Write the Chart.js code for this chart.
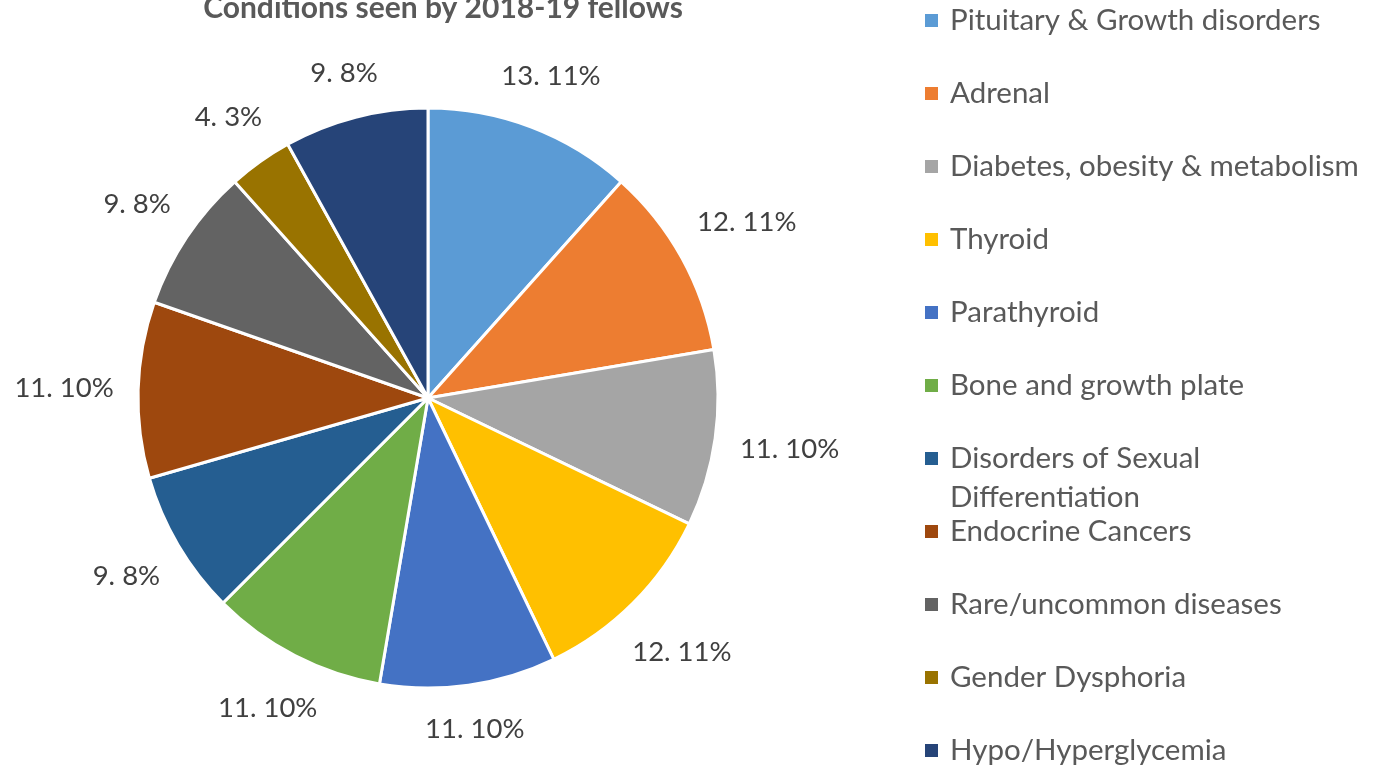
<!DOCTYPE html>
<html lang="en">
<head>
    <meta charset="UTF-8">
    <title>Conditions seen by 2018-19 fellows</title>
    <script src="https://cdn.jsdelivr.net/npm/chart.js@4.4.0/dist/chart.umd.min.js"></script>
    <style>
        html, body { margin: 0; padding: 0; background: #fff; }
        #wrap { width: 1381px; height: 765px; position: relative; overflow: hidden; }
    </style>
</head>
<body>
<div id="wrap">
    <canvas id="myChart" width="1381" height="765"></canvas>
</div>
<script>
    var chartTitle = 'Conditions seen by 2018-19 fellows';
    var categories = ['Pituitary & Growth disorders', 'Adrenal', 'Diabetes, obesity & metabolism', 'Thyroid',
        'Parathyroid', 'Bone and growth plate', 'Disorders of Sexual Differentiation', 'Endocrine Cancers',
        'Rare/uncommon diseases', 'Gender Dysphoria', 'Hypo/Hyperglycemia'];
    var counts = [13, 12, 11, 12, 11, 11, 9, 11, 9, 4, 9];
    var colours = ['#5B9BD5', '#ED7D31', '#A5A5A5', '#FFC000', '#4472C4', '#70AD47',
        '#255E91', '#9E480E', '#636363', '#997300', '#264478'];

    var FONT = 'Lato, "Open Sans", sans-serif';

    // percentages that add up to 100 (largest remainder, like Excel does)
    function percents(vals) {
        var total = vals.reduce((a, b) => a + b, 0);
        var raw = vals.map(v => v / total * 100);
        var out = raw.map(Math.floor);
        var left = 100 - out.reduce((a, b) => a + b, 0);
        var order = raw.map((r, i) => i).sort((a, b) => (raw[b] - Math.floor(raw[b])) - (raw[a] - Math.floor(raw[a])));
        for (var k = 0; k < left; k++) out[order[k]]++;
        return out;
    }
    var pct = percents(counts);

    var decorations = {
        id: 'decorations',
        afterDatasetsDraw(chart) {
            var ctx = chart.ctx;
            var arcs = chart.getDatasetMeta(0).data;
            ctx.save();
            // data labels just outside each slice
            ctx.font = '27.5px ' + FONT;
            ctx.fillStyle = '#404040';
            ctx.textAlign = 'center';
            ctx.textBaseline = 'middle';
            arcs.forEach((arc, i) => {
                var p = arc.getProps(['x', 'y', 'startAngle', 'endAngle', 'outerRadius'], true);
                var mid = (p.startAngle + p.endAngle) / 2;
                var txt = counts[i] + '. ' + pct[i] + '%';
                var w = ctx.measureText(txt).width, h = 28;
                var c = Math.cos(mid), s = Math.sin(mid);
                var d = p.outerRadius + 24 + Math.abs(c) * w / 2 + Math.abs(s) * h / 2;
                ctx.fillText(txt, p.x + c * d, p.y + s * d);
            });

            // title (partly above the top edge, as in the source)
            ctx.font = 'bold 30px ' + FONT;
            ctx.fillStyle = '#595959';
            ctx.textBaseline = 'alphabetic';
            ctx.fillText(chartTitle, 443, 18);

            // legend
            ctx.font = '29.5px ' + FONT;
            ctx.textAlign = 'left';
            ctx.textBaseline = 'middle';
            var maxW = 425;
            categories.forEach((name, i) => {
                var y = 20 + i * 73;
                ctx.fillStyle = colours[i];
                ctx.fillRect(925, y - 6, 13, 13);
                ctx.fillStyle = '#595959';
                var words = name.split(' '), line = '', lines = [];
                words.forEach(wd => {
                    var t = line ? line + ' ' + wd : wd;
                    if (ctx.measureText(t).width > maxW && line) { lines.push(line); line = wd; }
                    else line = t;
                });
                lines.push(line);
                lines.forEach((ln, j) => ctx.fillText(ln, 950, y + j * 39));
            });
            ctx.restore();
        }
    };

    var ctx = document.getElementById('myChart');
    var myChart = new Chart(ctx, {
        type: 'pie',
        data: {
            labels: categories,
            datasets: [{
                data: counts,
                backgroundColor: colours,
                borderColor: '#ffffff',
                borderWidth: 3,
                hoverOffset: 0
            }]
        },
        options: {
            responsive: false,
            animation: false,
            radius: 290,
            layout: { padding: { left: 138, right: 663, top: 108, bottom: 77 } },
            plugins: {
                legend: { display: false },
                title: { display: false },
                tooltip: { enabled: false }
            }
        },
        plugins: [decorations]
    });
</script>
</body>
</html>
